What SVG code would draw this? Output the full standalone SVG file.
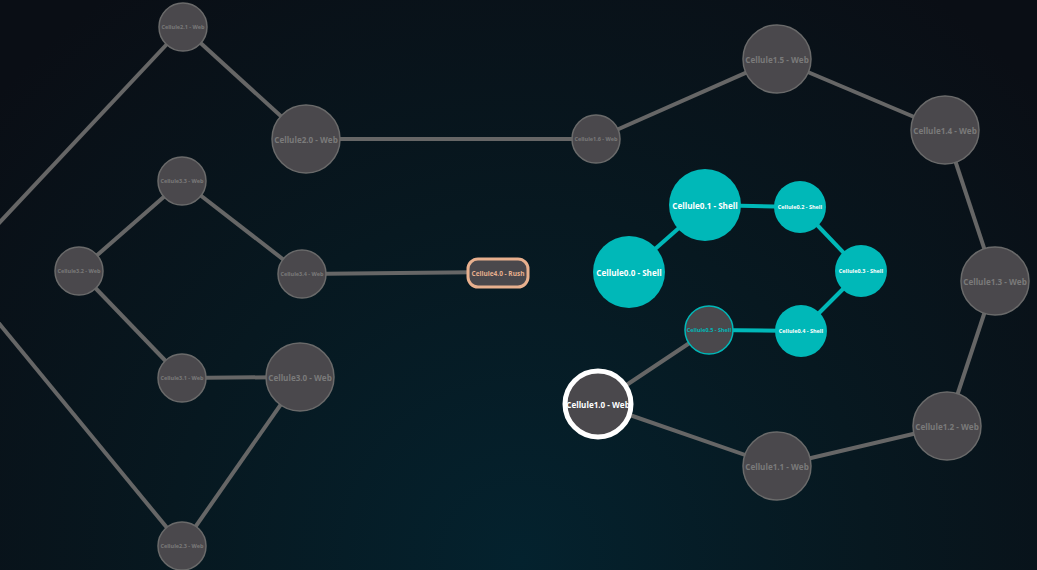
<svg xmlns="http://www.w3.org/2000/svg" width="1037" height="570" viewBox="0 0 1037 570">
<defs>
<radialGradient id="bg" cx="520" cy="560" r="700" gradientUnits="userSpaceOnUse">
<stop offset="0" stop-color="#04222e"/>
<stop offset="0.5" stop-color="#071820"/>
<stop offset="1" stop-color="#0a0e15"/>
</radialGradient>
<style>
.e{stroke:#666;stroke-width:4;fill:none}
.t{stroke:#00b8b8;stroke-width:4;fill:none}
.w{fill:#4a484c;stroke:#6a6a6a;stroke-width:1.5}
.s{fill:#00b8b8}
text{font-family:"Open Sans","Liberation Sans",sans-serif;font-weight:700;text-anchor:middle;dominant-baseline:central}
.gl{fill:#7a7a7a;font-size:8.1px}
.gs{fill:#7a7a7a;font-size:5.5px}
.wl{fill:#ffffff;font-size:8.1px}
.ws{fill:#ffffff;font-size:5.5px}
</style>
</defs>
<rect width="1037" height="570" fill="url(#bg)"/>
<g id="connectors">
<line class="e" x1="-45" y1="270" x2="183" y2="27"/>
<line class="e" x1="-45" y1="270" x2="182" y2="546"/>
<line class="e" x1="183" y1="27" x2="306" y2="139"/>
<line class="e" x1="306" y1="139" x2="596" y2="139"/>
<line class="e" x1="596" y1="139" x2="777" y2="59"/>
<line class="e" x1="777" y1="59" x2="945" y2="130"/>
<line class="e" x1="945" y1="130" x2="995" y2="281"/>
<line class="e" x1="995" y1="281" x2="947" y2="426"/>
<line class="e" x1="947" y1="426" x2="777" y2="466"/>
<line class="e" x1="777" y1="466" x2="598" y2="404"/>
<line class="e" x1="598" y1="404" x2="709" y2="330"/>
<line class="e" x1="182" y1="181" x2="79" y2="271"/>
<line class="e" x1="182" y1="181" x2="302" y2="274"/>
<line class="e" x1="79" y1="271" x2="182" y2="378"/>
<line class="e" x1="182" y1="378" x2="300" y2="377"/>
<line class="e" x1="300" y1="377" x2="182" y2="546"/>
<line class="e" x1="302" y1="274" x2="497" y2="272"/>
<line class="t" x1="709" y1="330" x2="801" y2="331"/>
<line class="t" x1="801" y1="331" x2="861" y2="271"/>
<line class="t" x1="861" y1="271" x2="800" y2="207"/>
<line class="t" x1="800" y1="207" x2="705" y2="205"/>
<line class="t" x1="705" y1="205" x2="629" y2="272"/>
</g>
<g id="n2_1"><circle class="w" cx="183" cy="27" r="24"/><text class="gs" x="183" y="27">Cellule2.1 - Web</text></g>
<g id="n2_0"><circle class="w" cx="306" cy="139" r="34"/><text class="gl" x="306" y="139">Cellule2.0 - Web</text></g>
<g id="n1_6"><circle class="w" cx="596" cy="139" r="24"/><text class="gs" x="596" y="139">Cellule1.6 - Web</text></g>
<g id="n1_5"><circle class="w" cx="777" cy="59" r="34"/><text class="gl" x="777" y="59">Cellule1.5 - Web</text></g>
<g id="n1_4"><circle class="w" cx="945" cy="130" r="34"/><text class="gl" x="945" y="130">Cellule1.4 - Web</text></g>
<g id="n1_3"><circle class="w" cx="995" cy="281" r="34"/><text class="gl" x="995" y="281">Cellule1.3 - Web</text></g>
<g id="n1_2"><circle class="w" cx="947" cy="426" r="34"/><text class="gl" x="947" y="426">Cellule1.2 - Web</text></g>
<g id="n1_1"><circle class="w" cx="777" cy="466" r="34"/><text class="gl" x="777" y="466">Cellule1.1 - Web</text></g>
<g id="n1_0"><circle cx="598" cy="404" r="33" fill="#4a484c" stroke="#ffffff" stroke-width="5"/><text class="wl" x="598" y="404">Cellule1.0 - Web</text></g>
<g id="n3_3"><circle class="w" cx="182" cy="181" r="24"/><text class="gs" x="182" y="181">Cellule3.3 - Web</text></g>
<g id="n3_2"><circle class="w" cx="79" cy="271" r="24"/><text class="gs" x="79" y="271">Cellule3.2 - Web</text></g>
<g id="n3_4"><circle class="w" cx="302" cy="274" r="24"/><text class="gs" x="302" y="274">Cellule3.4 - Web</text></g>
<g id="n3_1"><circle class="w" cx="182" cy="378" r="24"/><text class="gs" x="182" y="378">Cellule3.1 - Web</text></g>
<g id="n3_0"><circle class="w" cx="300" cy="377" r="34"/><text class="gl" x="300" y="377">Cellule3.0 - Web</text></g>
<g id="n2_3"><circle class="w" cx="182" cy="546" r="24"/><text class="gs" x="182" y="546">Cellule2.3 - Web</text></g>
<g id="n4_0"><rect x="468" y="259" width="60" height="28" rx="10" fill="#4a484c" stroke="#e8b08e" stroke-width="3"/><text x="498" y="273" style="font-size:6.5px;fill:#e8b08e">Cellule4.0 - Rush</text></g>
<g id="n0_1"><circle class="s" cx="705" cy="205" r="36"/><text class="wl" x="705" y="205">Cellule0.1 - Shell</text></g>
<g id="n0_0"><circle class="s" cx="629" cy="272" r="36"/><text class="wl" x="629" y="272">Cellule0.0 - Shell</text></g>
<g id="n0_2"><circle class="s" cx="800" cy="207" r="26"/><text class="ws" x="800" y="207">Cellule0.2 - Shell</text></g>
<g id="n0_3"><circle class="s" cx="861" cy="271" r="26"/><text class="ws" x="861" y="271">Cellule0.3 - Shell</text></g>
<g id="n0_4"><circle class="s" cx="801" cy="331" r="26"/><text class="ws" x="801" y="331">Cellule0.4 - Shell</text></g>
<g id="n0_5"><circle cx="709" cy="330" r="24" fill="#4a484c" stroke="#00b8b8" stroke-width="1.5"/><text x="709" y="330" style="font-size:5.5px;fill:#00b8b8">Cellule0.5 - Shell</text></g>
</svg>
